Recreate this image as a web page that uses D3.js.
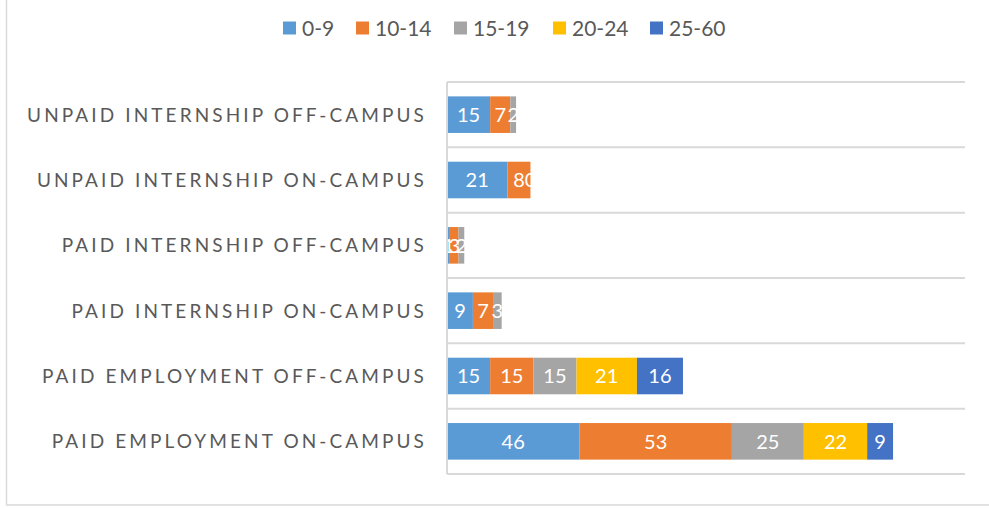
<!DOCTYPE html>
<html>
<head>
<meta charset="utf-8">
<script src="https://cdn.jsdelivr.net/npm/d3@7"></script>
<style>
    body { margin: 0; background: #fff; }
    svg { display: block; }
</style>
</head>
<body>
<div id="chart"></div>
<script>
// categories top to bottom
let categories = [
    "UNPAID INTERNSHIP OFF-CAMPUS",
    "UNPAID INTERNSHIP ON-CAMPUS",
    "PAID INTERNSHIP OFF-CAMPUS",
    "PAID INTERNSHIP ON-CAMPUS",
    "PAID EMPLOYMENT OFF-CAMPUS",
    "PAID EMPLOYMENT ON-CAMPUS"
];

let seriesNames = ["0-9", "10-14", "15-19", "20-24", "25-60"];
let seriesColors = ["#5B9BD5", "#ED7D31", "#A5A5A5", "#FFC000", "#4472C4"];

// one array per series, same order as categories (null = no value)
let s0to9   = [15, 21, 1, 9, 15, 46];
let s10to14 = [7, 8, 3, 7, 15, 53];
let s15to19 = [2, 0, 2, 3, 15, 25];
let s20to24 = [null, null, null, null, 21, 22];
let s25to60 = [null, null, null, null, 16, 9];

let xMax = 180;

let width = 989, height = 508;

let svg = d3.select("#chart").append("svg")
    .attr("width", width)
    .attr("height", height);

// chart border (only left/bottom visible in frame)
svg.append("rect")
    .attr("x", 6.5).attr("y", -10)
    .attr("width", 1000).attr("height", 515)
    .attr("fill", "none")
    .attr("stroke", "#d9d9d9")
    .attr("stroke-width", 1.5);

let xScale = d3.scaleLinear()
    .domain([0, xMax])
    .range([447, 965]);

let yScale = d3.scaleBand()
    .domain(categories)
    .range([82, 474])
    .paddingInner(0.44)
    .paddingOuter(0.22);

// gridlines at band boundaries
let step = yScale.step();
let gridY = d3.range(categories.length + 1).map(i => 82 + i * step);
svg.selectAll(".grid")
    .data(gridY)
    .enter().append("line")
    .attr("class", "grid")
    .attr("x1", xScale(0)).attr("x2", xScale(xMax))
    .attr("y1", d => d).attr("y2", d => d)
    .attr("stroke", "#d9d9d9")
    .attr("stroke-width", 2);

// stack the series
let seriesData = [s0to9, s10to14, s15to19, s20to24, s25to60];
let segments = [];
categories.forEach((cat, i) => {
    let acc = 0;
    seriesData.forEach((arr, j) => {
        let v = arr[i];
        if (v === null) return;
        segments.push({cat: cat, series: j, x0: acc, x1: acc + v, value: v});
        acc += v;
    });
});

svg.selectAll(".seg")
    .data(segments)
    .enter().append("rect")
    .attr("class", "seg")
    .attr("x", d => xScale(d.x0))
    .attr("y", d => yScale(d.cat))
    .attr("width", d => xScale(d.x1) - xScale(d.x0))
    .attr("height", yScale.bandwidth())
    .attr("fill", d => seriesColors[d.series]);

svg.selectAll(".seg-label")
    .data(segments)
    .enter().append("text")
    .attr("class", "seg-label")
    .attr("x", d => (xScale(d.x0) + xScale(d.x1)) / 2)
    .attr("y", d => yScale(d.cat) + yScale.bandwidth() / 2)
    .attr("dy", "0.36em")
    .attr("text-anchor", "middle")
    .attr("fill", "white")
    .attr("font-family", "Lato, 'Open Sans', sans-serif")
    .attr("font-size", 20)
    .text(d => d.value);

// category axis line
svg.append("line")
    .attr("x1", xScale(0)).attr("x2", xScale(0))
    .attr("y1", 82).attr("y2", 474)
    .attr("stroke", "#d9d9d9")
    .attr("stroke-width", 2);

// category labels
svg.selectAll(".cat-label")
    .data(categories)
    .enter().append("text")
    .attr("class", "cat-label")
    .attr("x", 427)
    .attr("y", d => yScale(d) + yScale.bandwidth() / 2)
    .attr("dy", "0.36em")
    .attr("text-anchor", "end")
    .attr("fill", "#595959")
    .attr("font-family", "Lato, 'Open Sans', sans-serif")
    .attr("font-size", 19)
    .attr("letter-spacing", "3.1px")
    .text(d => d);

// legend
let legendX = [283, 356, 454, 553, 650];
let legend = svg.selectAll(".legend")
    .data(seriesNames)
    .enter().append("g")
    .attr("class", "legend")
    .attr("transform", (d, i) => "translate(" + legendX[i] + ",28)");

legend.append("rect")
    .attr("x", 0).attr("y", -6.5)
    .attr("width", 13).attr("height", 13)
    .attr("fill", (d, i) => seriesColors[i]);

legend.append("text")
    .attr("x", 19)
    .attr("dy", "0.36em")
    .attr("fill", "#595959")
    .attr("font-family", "Lato, 'Open Sans', sans-serif")
    .attr("font-size", 21)
    .text(d => d);
</script>
</body>
</html>
